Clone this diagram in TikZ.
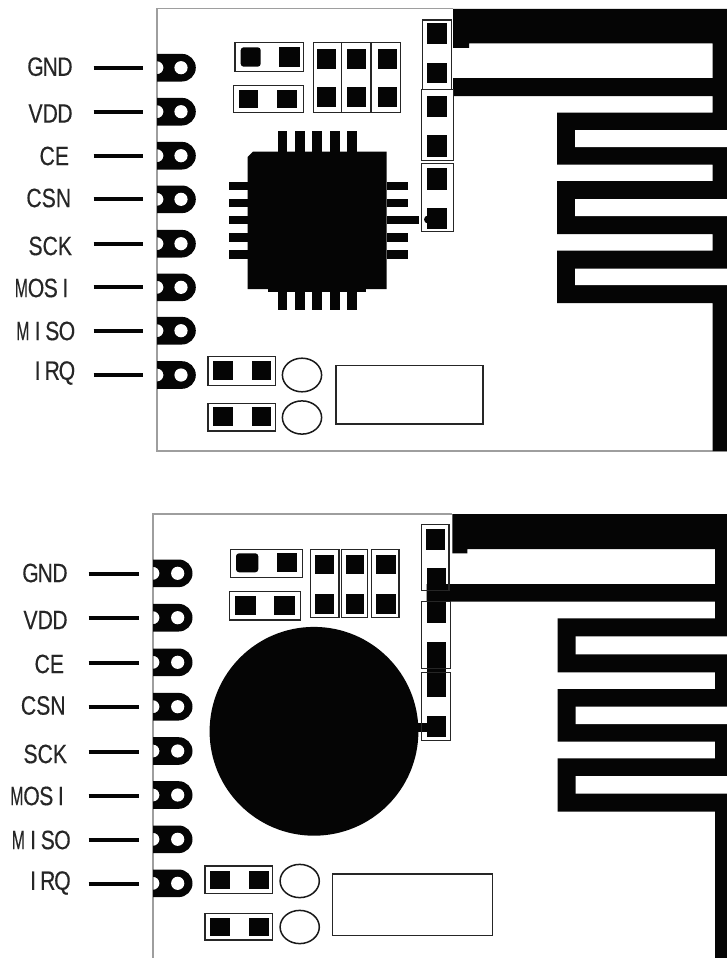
\documentclass[tikz,border=0pt]{standalone}
\usepackage{fontspec}
\usepackage{graphicx}
\setmainfont{Liberation Sans}
\newfontfamily\pinfont[FakeBold=0.35]{Liberation Sans}
\definecolor{ink}{gray}{0.02}
\definecolor{board}{gray}{0.62}
\newcommand\cellA[1]{\makebox[14.7pt][c]{\scalebox{\ifx#1M.6\else.8\fi}[1]{\fontsize{26.5}{26.5}\pinfont #1}}}
\newcommand\monoTxt[1]{\monoStep#1\relax}
\def\monoStep#1{\ifx#1\relax\else\cellA{#1}\expandafter\monoStep\fi}
\tikzset{
  x=1pt,y=-1pt,
  pcbpad/.style={fill=ink,draw=none},
  outl/.style={draw=black!85,line width=1.2pt,fill=none},
  lead/.style={draw=ink,line width=4.2pt},
  pinlabel/.style={inner sep=0pt,text=black!85,anchor=east},
  edgeline/.style={draw=board,line width=1.1pt},
  ringpad/.style={draw=black!90,line width=1.5pt},
}
\newcommand\bx[5][pcbpad]{\path[#1] (#2,#4) rectangle (#3,#5);}
% header pad: x-left, hole x, y
\newcommand\hdr[3]{%
  \fill[ink] (#1,#3-13.8) -- (#2+1,#3-13.8) arc[start angle=-90,end angle=90,radius=13.8] -- (#1,#3+13.8) -- (#1,#3+6.5) arc[start angle=90,end angle=-90,radius=6.5] -- cycle;
  \fill[white] (#2,#3) circle[radius=6.6];
}
\begin{document}
\begin{tikzpicture}
\useasboundingbox (0,0) rectangle (727,958);
\fill[white] (0,0) rectangle (727,958);

% ---------- upper module ----------
\draw[edgeline] (453,8.5) -- (157,8.5) -- (157,451) -- (727,451);
\fill[ink] (453,9) -- (727,9) -- (727,451) -- (712.7,451) -- (712.7,303) -- (557,303) -- (557,250.5) -- (712.7,250.5) -- (712.7,234) -- (557,234) -- (557,181) -- (712.7,181) -- (712.7,164.7) -- (557,164.7) -- (557,112.5) -- (712.7,112.5) -- (712.7,96) -- (453,96) -- (453,78) -- (712.7,78) -- (712.7,43.5) -- (469,43.5) -- (469,48) -- (453,48) -- cycle;
\fill[white] (575,130) rectangle (727,147) (575,199) rectangle (727,216) (575,268.7) rectangle (727,285);

\foreach \y in {67.7,111.7,155.7,199.3,243.7,287.3,330.7,375} {\hdr{157}{181}{\y}}
\node[pinlabel] (ta) at (72.5,66.7) {\monoTxt{GND}};
\node[pinlabel] (tb) at (72.5,113.5) {\monoTxt{VDD}};
\node[pinlabel] (tc) at (69.5,156) {\monoTxt{CE}};
\node[pinlabel] (td) at (71,198) {\monoTxt{CSN}};
\node[pinlabel] (te) at (72.5,246) {\monoTxt{SCK}};
\node[pinlabel] (tf) at (73,288) {\monoTxt{MOSI}};
\node[pinlabel] (tg) at (74.5,331) {\monoTxt{MISO}};
\node[pinlabel] (th) at (74.5,373) {\monoTxt{IRQ}};
\foreach \y in {67.7,111.7,155.7,199.3,243.7,287.3,330.7,375} {\draw[lead] (93.7,\y) -- (142.7,\y);}

\bx[outl]{235}{303.7}{42.7}{71.3}
\path[pcbpad,rounded corners=3pt] (240.7,47.3) rectangle (260.7,66.7);
\bx{279.3}{300}{47.3}{66.7}
\bx[outl]{233.7}{303.7}{85.3}{112.7}
\bx{239}{258.3}{90}{108.3} \bx{277.3}{296.7}{90}{108.3}
\bx[outl]{313.3}{341.3}{42.7}{112.7}
\bx[outl]{341.8}{371}{42.7}{112.7}
\bx[outl]{371}{400.3}{42.7}{112.7}
\foreach \a/\b in {317.3/336,346.7/366,378/396.7} {\bx{\a}{\b}{48.7}{68.7} \bx{\a}{\b}{87.3}{107.3}}

\bx[outl]{422.7}{451.7}{20}{89.3}
\bx[outl]{421.7}{453.3}{89.3}{160.3}
\bx[outl]{421.7}{453.3}{163.7}{231.7}
\bx{426.7}{446.7}{23.3}{44} \bx{426.7}{446.7}{62.7}{83.3}
\bx{427.3}{447.3}{95.7}{116.7} \bx{427.3}{447.3}{135}{156.7}
\bx{427.3}{447.3}{167.7}{190} \bx{427.3}{447.3}{208.3}{229}
\fill[ink] (428,219.5) circle[radius=4];

% chip
\fill[ink] (253,151.7) -- (386.7,151.7) -- (386.7,289) -- (247.7,289) -- (247.7,157) -- cycle;
\fill[ink] (268,289) rectangle (366,292);
\foreach \a/\b in {277.7/287.3,295/304.7,312.3/322,330/339.7,347/356.7} {\bx{\a}{\b}{131.3}{151.7} \bx{\a}{\b}{289}{310.3}}
\foreach \a/\b in {181.7/190,198.7/207.3,216/224.3,233/241.7,250.3/259.3} {\bx{228.7}{247.7}{\a}{\b} \bx{386.7}{408}{\a}{\b}}
\bx{386.7}{419.4}{216}{224.3}

\bx[outl]{208}{275.3}{356.7}{385.7}
\bx{213.3}{232.7}{360.7}{380} \bx{251.7}{271}{360.7}{380}
\bx[outl]{208}{275.3}{403.7}{431}
\bx{213.3}{232.7}{407.3}{426} \bx{251.7}{271}{407.3}{426}
\draw[ringpad] (302,375) ellipse[x radius=19.6,y radius=16.8];
\draw[ringpad] (302,417.5) ellipse[x radius=19.6,y radius=16.6];
\bx[outl]{336}{483}{365.7}{424}

% ---------- lower module ----------
\draw[edgeline] (452.3,514) -- (153,514) -- (153,958);
\fill[ink] (452.3,514) -- (727,514) -- (727,958) -- (715,958) -- (715,811.7) -- (557.7,811.7) -- (557.7,758.3) -- (715,758.3) -- (715,741.7) -- (557.7,741.7) -- (557.7,689) -- (715,689) -- (715,672.3) -- (557.7,672.3) -- (557.7,618.3) -- (715,618.3) -- (715,601.7) -- (426.7,601.7) -- (426.7,584) -- (715,584) -- (715,549) -- (467.3,549) -- (467.3,553.3) -- (452.3,553.3) -- cycle;
\fill[white] (575.7,636.3) rectangle (727,654.3) (575.7,706.7) rectangle (727,724) (575.7,776) rectangle (727,793.7);

\foreach \y in {573.3,617.7,662.3,706.7,751,795,839.3,883.3} {\hdr{153}{177.7}{\y}}
\node[pinlabel] (ba) at (67.5,573) {\monoTxt{GND}};
\node[pinlabel] (bb) at (67.5,620) {\monoTxt{VDD}};
\node[pinlabel] (bc) at (64.5,664) {\monoTxt{CE}};
\node[pinlabel] (bd) at (65.5,705.5) {\monoTxt{CSN}};
\node[pinlabel] (be) at (67.5,754) {\monoTxt{SCK}};
\node[pinlabel] (bf) at (68.5,796) {\monoTxt{MOSI}};
\node[pinlabel] (bg) at (70,840) {\monoTxt{MISO}};
\node[pinlabel] (bh) at (70,883) {\monoTxt{IRQ}};
\foreach \y in {574.3,618.3,663,707.3,751.7,796,840,884} {\draw[lead] (88.5,\y) -- (139,\y);}

\bx[outl]{230.7}{302.7}{549.3}{577.7}
\path[pcbpad,rounded corners=3pt] (236,553.3) rectangle (258.3,572.3);
\bx{277.3}{297.3}{553.3}{572.3}
\bx[outl]{229.3}{300.7}{591.7}{620}
\bx{235}{255.7}{595.7}{615} \bx{274}{295}{595.7}{615}
\bx[outl]{310.7}{339}{549.3}{617.3}
\bx[outl]{341.7}{367.7}{549.3}{617.3}
\bx[outl]{371.7}{399}{549.3}{617.3}
\foreach \a/\b in {315/334.3,345.7/364.3,375.7/395.7} {\bx{\a}{\b}{555}{574} \bx{\a}{\b}{594.3}{613.7}}

\fill[ink] (314,731.3) circle[radius=104.4];
\bx{415}{428}{723}{732}

\bx{426}{445.3}{529.3}{550} \bx{426.7}{445.7}{568.3}{623.3}
\bx{426.7}{446}{642.3}{696.7} \bx{426.7}{446}{715.7}{736.7}
\bx[outl]{421.7}{449}{524.3}{590.7}
\bx[outl]{421.7}{450.7}{601.7}{668.3}
\bx[outl]{421.7}{450.7}{672.3}{740.7}

\bx[outl]{205}{272.7}{866}{893.3}
\bx{210.3}{230}{870.7}{889} \bx{249}{269}{870.7}{889}
\bx[outl]{205}{272.7}{913.3}{940}
\bx{210.3}{230}{917.7}{936} \bx{249}{269}{917.7}{936}
\draw[ringpad] (299.7,881) ellipse[x radius=19.6,y radius=16.6];
\draw[ringpad] (299.7,927) ellipse[x radius=19.6,y radius=16.6];
\bx[outl]{332.7}{492.7}{874}{935.3}
\end{tikzpicture}
\end{document}
